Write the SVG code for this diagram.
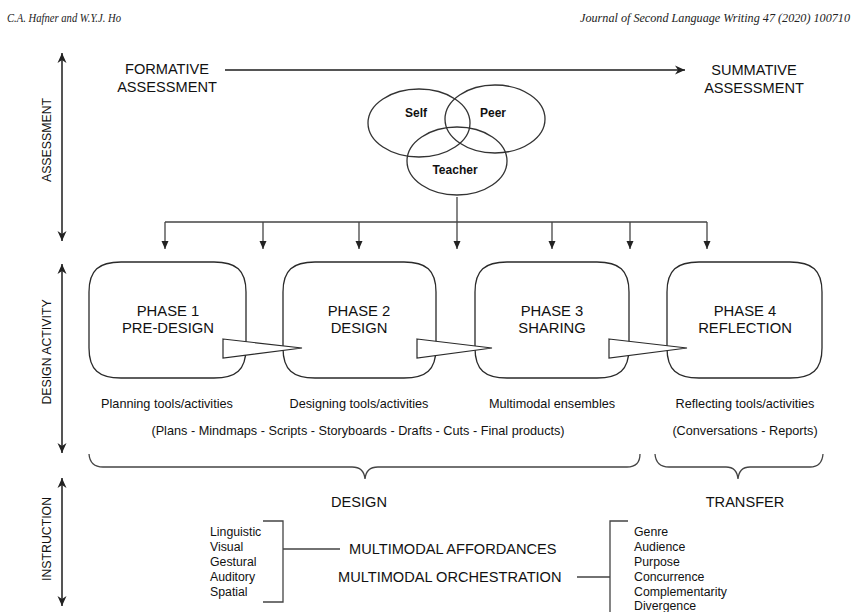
<svg xmlns="http://www.w3.org/2000/svg" width="856" height="612" viewBox="0 0 856 612">
<style>
.hdr{font-family:"Liberation Serif","DejaVu Serif",serif;font-style:italic;font-size:12px;fill:#222}
.t{font-family:"Liberation Sans",Arial,sans-serif;fill:#111}
.big{font-size:14.6px}
.ax{font-size:12.3px}
.ph{font-size:14.8px}
.sm{font-size:12.7px}
.ls{font-size:12.3px}
.venn{font-size:12px;font-weight:bold}
.box{fill:#fff;stroke:#2a2a2a;stroke-width:1.3}
.wedge{fill:#fff;stroke:#2a2a2a;stroke-width:1.2;stroke-linejoin:miter}
.axis{stroke:#555;stroke-width:2;fill:none}
.ln{stroke:#444;stroke-width:1.3;fill:none}
.ell{fill:none;stroke:#333;stroke-width:1.3}
</style>
<defs>
<marker id="barb" viewBox="-11 -6 12 12" refX="0" refY="0" markerWidth="12" markerHeight="12" markerUnits="userSpaceOnUse" orient="auto-start-reverse">
<path d="M0,0 L-10,-4.5 L-7,0 L-10,4.5 Z" fill="#222"/>
</marker>
<marker id="tri" viewBox="-9 -5 10 10" refX="0" refY="0" markerWidth="10" markerHeight="10" markerUnits="userSpaceOnUse" orient="auto">
<path d="M0,0 L-8,-3.5 L-8,3.5 Z" fill="#222"/>
</marker>
</defs>

<g id="header">
<text class="hdr" x="7" y="22" textLength="114" lengthAdjust="spacingAndGlyphs">C.A. Hafner and W.Y.J. Ho</text>
<text class="hdr" x="580" y="22" textLength="270" lengthAdjust="spacingAndGlyphs">Journal of Second Language Writing 47 (2020) 100710</text>
</g>

<g id="axes">
<line class="axis" x1="62" y1="53" x2="62" y2="241" marker-start="url(#barb)" marker-end="url(#barb)"/>
<line class="axis" x1="62" y1="264" x2="62" y2="453" marker-start="url(#barb)" marker-end="url(#barb)"/>
<line class="axis" x1="62" y1="478" x2="62" y2="606" marker-start="url(#barb)" marker-end="url(#barb)"/>
<text class="t ax" transform="translate(51,140) rotate(-90)" text-anchor="middle">ASSESSMENT</text>
<text class="t ax" transform="translate(51,352) rotate(-90)" text-anchor="middle">DESIGN ACTIVITY</text>
<text class="t ax" transform="translate(51,539) rotate(-90)" text-anchor="middle">INSTRUCTION</text>
</g>

<g id="formative">
<text class="t big" x="167" y="74" text-anchor="middle">FORMATIVE</text>
<text class="t big" x="167" y="92" text-anchor="middle">ASSESSMENT</text>
</g>
<g id="summative">
<text class="t big" x="754" y="75" text-anchor="middle">SUMMATIVE</text>
<text class="t big" x="754" y="93" text-anchor="middle">ASSESSMENT</text>
</g>

<g id="venn">
<ellipse class="ell" cx="419" cy="123" rx="51" ry="34"/>
<ellipse class="ell" cx="495" cy="119" rx="50" ry="34"/>
<ellipse class="ell" cx="457" cy="161" rx="50" ry="34"/>
<text class="t venn" x="416" y="117" text-anchor="middle">Self</text>
<text class="t venn" x="493" y="117" text-anchor="middle">Peer</text>
<text class="t venn" x="455" y="174" text-anchor="middle">Teacher</text>
</g>

<g id="connectors">
<line class="axis" x1="225" y1="70" x2="685" y2="70" stroke="#666" marker-end="url(#barb)"/>
<line class="ln" x1="457" y1="197" x2="457" y2="249" marker-end="url(#tri)"/>
<line class="ln" x1="165" y1="222" x2="707" y2="222"/>
<line class="ln" x1="165" y1="222" x2="165" y2="249" marker-end="url(#tri)"/>
<line class="ln" x1="263" y1="222" x2="263" y2="249" marker-end="url(#tri)"/>
<line class="ln" x1="359" y1="222" x2="359" y2="249" marker-end="url(#tri)"/>
<line class="ln" x1="552" y1="222" x2="552" y2="249" marker-end="url(#tri)"/>
<line class="ln" x1="630" y1="222" x2="630" y2="249" marker-end="url(#tri)"/>
<line class="ln" x1="707" y1="222" x2="707" y2="249" marker-end="url(#tri)"/>
</g>

<g id="phase1">
<path class="box" d="M121,262 L214,262 C236,262 246,270 246,292 L246,348 C246,370 236,378 214,378 L121,378 C99,378 89,370 89,348 L89,292 C89,270 99,262 121,262 Z"/>
<text class="t ph" x="168" y="316" text-anchor="middle">PHASE 1</text>
<text class="t ph" x="168" y="333" text-anchor="middle">PRE-DESIGN</text>
</g>
<g id="phase2">
<path class="box" d="M315,262 L404,262 C426,262 436,270 436,292 L436,348 C436,370 426,378 404,378 L315,378 C293,378 283,370 283,348 L283,292 C283,270 293,262 315,262 Z"/>
<text class="t ph" x="359" y="316" text-anchor="middle">PHASE 2</text>
<text class="t ph" x="359" y="333" text-anchor="middle">DESIGN</text>
</g>
<g id="phase3">
<path class="box" d="M507,262 L597,262 C619,262 629,270 629,292 L629,348 C629,370 619,378 597,378 L507,378 C485,378 475,370 475,348 L475,292 C475,270 485,262 507,262 Z"/>
<text class="t ph" x="552" y="316" text-anchor="middle">PHASE 3</text>
<text class="t ph" x="552" y="333" text-anchor="middle">SHARING</text>
</g>
<g id="phase4">
<path class="box" d="M699,262 L790,262 C812,262 822,270 822,292 L822,348 C822,370 812,378 790,378 L699,378 C677,378 667,370 667,348 L667,292 C667,270 677,262 699,262 Z"/>
<text class="t ph" x="745" y="316" text-anchor="middle">PHASE 4</text>
<text class="t ph" x="745" y="333" text-anchor="middle">REFLECTION</text>
</g>

<g id="pointers">
<polygon class="wedge" points="223,339 302,348 223,358"/>
<polygon class="wedge" points="417,339 492,348 417,358"/>
<polygon class="wedge" points="609,339 687,348 609,358"/>
</g>

<g id="activity-labels">
<text class="t sm" x="167" y="408" text-anchor="middle">Planning tools/activities</text>
<text class="t sm" x="359" y="408" text-anchor="middle">Designing tools/activities</text>
<text class="t sm" x="552" y="408" text-anchor="middle">Multimodal ensembles</text>
<text class="t sm" x="745" y="408" text-anchor="middle">Reflecting tools/activities</text>
<text class="t sm" x="358" y="435" text-anchor="middle">(Plans - Mindmaps - Scripts - Storyboards - Drafts - Cuts - Final products)</text>
<text class="t sm" x="745" y="435" text-anchor="middle">(Conversations - Reports)</text>
</g>

<g id="design-brace">
<path class="ln" d="M89,454 Q90,467 103,467 L352,467 Q364,467 365,479 Q366,467 378,467 L627,467 Q640,467 640,454"/>
<text class="t big" x="359" y="507" text-anchor="middle">DESIGN</text>
</g>
<g id="transfer-brace">
<path class="ln" d="M655,454 Q656,467 669,467 L726,467 Q737,467 738,479 Q739,467 750,467 L810,467 Q822,467 823,454"/>
<text class="t big" x="745" y="507" text-anchor="middle">TRANSFER</text>
</g>

<g id="modes">
<text class="t ls" x="210" y="536">Linguistic</text>
<text class="t ls" x="210" y="551">Visual</text>
<text class="t ls" x="210" y="566">Gestural</text>
<text class="t ls" x="210" y="581">Auditory</text>
<text class="t ls" x="210" y="596">Spatial</text>
<path class="ln" d="M263,521 L283,521 L283,602 L263,602 M283,549 L340,549"/>
</g>
<g id="affordances">
<text class="t big" x="349" y="554">MULTIMODAL AFFORDANCES</text>
</g>
<g id="orchestration">
<text class="t big" x="338" y="582">MULTIMODAL ORCHESTRATION</text>
<path class="ln" d="M577,577 L610,577 M628,521 L610,521 L610,612"/>
</g>
<g id="principles">
<text class="t ls" x="634" y="536">Genre</text>
<text class="t ls" x="634" y="551">Audience</text>
<text class="t ls" x="634" y="566">Purpose</text>
<text class="t ls" x="634" y="581">Concurrence</text>
<text class="t ls" x="634" y="596">Complementarity</text>
<text class="t ls" x="634" y="610">Divergence</text>
</g>
</svg>
